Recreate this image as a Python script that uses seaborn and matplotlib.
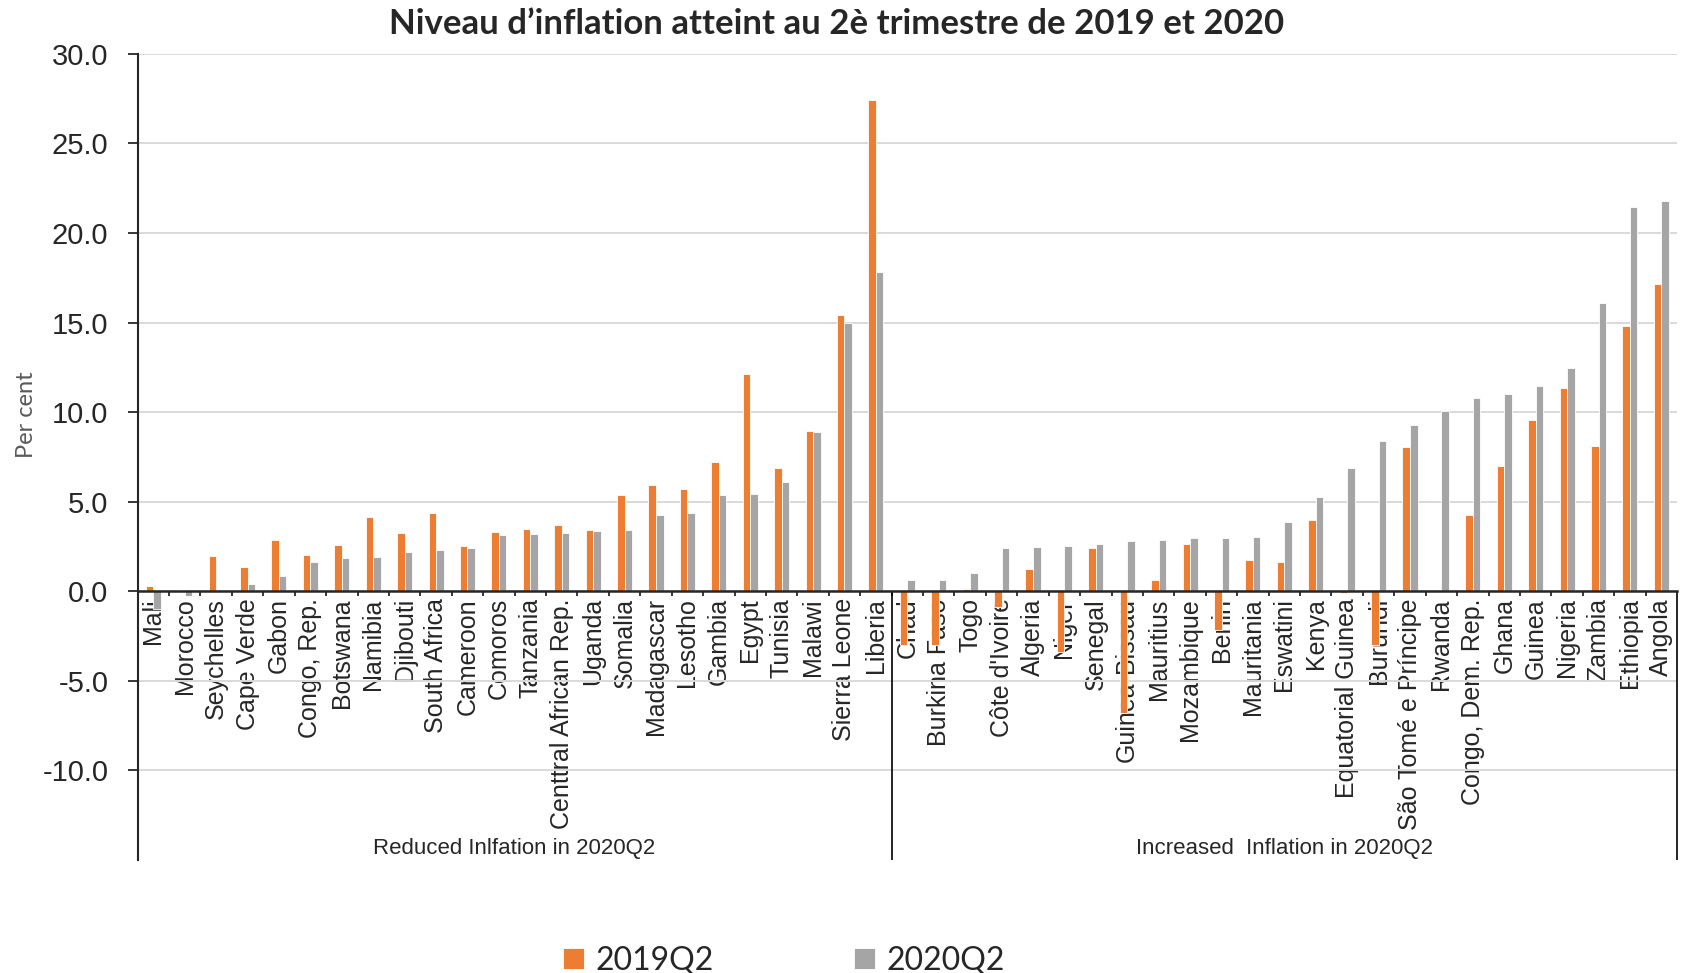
import numpy as np
import pandas as pd
import matplotlib
matplotlib.use("Agg")
import matplotlib.pyplot as plt
import seaborn as sns

# countries, ordered as in the chart
reduced = ["Mali", "Morocco", "Seychelles", "Cape Verde", "Gabon", "Congo, Rep.",
           "Botswana", "Namibia", "Djibouti", "South Africa", "Cameroon", "Comoros",
           "Tanzania", "Centtral African Rep.", "Uganda", "Somalia", "Madagascar",
           "Lesotho", "Gambia", "Egypt", "Tunisia", "Malawi", "Sierra Leone", "Liberia"]
increased = ["Chad", "Burkina Faso", "Togo", "Côte d'Ivoire", "Algeria", "Niger",
             "Senegal", "Guinea-Bissau", "Mauritius", "Mozambique", "Benin", "Mauritania",
             "Eswatini", "Kenya", "Equatorial Guinea", "Burundi", "São Tomé e Príncipe",
             "Rwanda", "Congo, Dem. Rep.", "Ghana", "Guinea", "Nigeria", "Zambia",
             "Ethiopia", "Angola"]

# inflation, per cent
q2_2019_reduced = [0.3, 0.1, 1.96, 1.34, 2.87, 2.01, 2.59, 4.16, 3.26, 4.38, 2.52, 3.32,
                   3.46, 3.71, 3.40, 5.35, 5.93, 5.73, 7.24, 12.13, 6.87, 8.97, 15.43, 27.4]
q2_2020_reduced = [-1.0, -0.25, 0.0, 0.43, 0.84, 1.64, 1.87, 1.92, 2.2, 2.33, 2.43, 3.12,
                   3.18, 3.25, 3.36, 3.43, 4.24, 4.35, 5.37, 5.45, 6.12, 8.90, 14.98, 17.84]
q2_2019_increased = [-2.97, -2.97, 0.11, -0.88, 1.23, -3.38, 2.43, -6.81, 0.62, 2.63, -2.15,
                     1.74, 1.66, 3.99, -0.12, -3.0, 8.06, 0.0, 4.25, 6.98, 9.55, 11.34,
                     8.13, 14.81, 17.15]
q2_2020_increased = [0.63, 0.63, 1.0, 2.43, 2.5, 2.52, 2.63, 2.82, 2.87, 2.97, 3.0, 3.04,
                     3.88, 5.26, 6.88, 8.41, 9.29, 10.09, 10.8, 11.03, 11.46, 12.44,
                     16.08, 21.46, 21.79]

periods = ["2019Q2", "2020Q2"]
group_labels = ["Reduced Inlfation in 2020Q2", "Increased  Inflation in 2020Q2"]

countries = reduced + increased
df = pd.DataFrame({
    "country": countries * 2,
    "period": [periods[0]] * len(countries) + [periods[1]] * len(countries),
    "value": q2_2019_reduced + q2_2019_increased + q2_2020_reduced + q2_2020_increased,
})

sns.set_style("white")
plt.rcParams["font.family"] = ["Liberation Sans", "DejaVu Sans"]

fig = plt.figure(figsize=(16.86, 9.73), dpi=100)
ax = fig.add_axes([0.0816, 0.1161, 0.9131, 0.8286])

sns.barplot(data=df, x="country", y="value", hue="period", order=countries,
            hue_order=periods, palette=["#ED7D31", "#A5A5A5"], saturation=1,
            width=0.48, edgecolor="white", linewidth=0.6, ax=ax)

handles, labels = ax.get_legend_handles_labels()
ax.get_legend().remove()

ax.set_xlim(-0.5, len(countries) - 0.5)
ax.set_ylim(-15, 30)
ax.set_yticks(np.arange(-10, 31, 5))
ax.set_yticklabels([f"{v:.1f}" for v in np.arange(-10, 31, 5)], fontsize=21)
ax.yaxis.grid(True, color="#D9D9D9", linewidth=1.4)
ax.set_axisbelow(True)
ax.set_xlabel("")
ax.set_ylabel("")

for s in ["top", "right"]:
    ax.spines[s].set_visible(False)
ax.spines["left"].set_linewidth(1.5)
ax.spines["bottom"].set_linewidth(1.8)
ax.spines["bottom"].set_position(("data", 0))
ax.tick_params(axis="y", direction="out", length=7, width=1.3, pad=14, left=True)

ax.set_xticks(range(len(countries)))
ax.set_xticklabels(countries, rotation=90, fontsize=18, va="top", ha="center")
ax.tick_params(axis="x", which="major", length=0, pad=5)
ax.set_xticks(np.arange(0.5, len(countries) - 1, 1.0), minor=True)
ax.tick_params(axis="x", which="minor", direction="out", length=3.5, width=1.3, bottom=True)

# group separators and group labels
edges = [-0.5, len(reduced) - 0.5, len(countries) - 0.5]
ax.vlines(edges[1:], -15, 0, color="black", linewidth=1.2, clip_on=False)
for i, lab in enumerate(group_labels):
    ax.text((edges[i] + edges[i + 1]) / 2, -14.35, lab, ha="center", va="center",
            fontsize=16)

fig.text(0.496, 0.9757, "Niveau d\u2019inflation atteint au 2è trimestre de 2019 et 2020",
         ha="center", va="center", fontsize=25, fontweight="bold", family="Lato")
fig.text(0.016, 0.574, "Per cent", rotation=90, ha="center", va="center",
         fontsize=17, color="#595959", family="Lato")

fig.legend(handles, labels, loc="center", bbox_to_anchor=(0.465, 0.0125), ncol=2,
           frameon=False, prop={"family": "Lato", "size": 23},
           handlelength=0.66, handleheight=0.66, handletextpad=0.35, columnspacing=4.4)

fig.savefig("out.png", dpi=100)
